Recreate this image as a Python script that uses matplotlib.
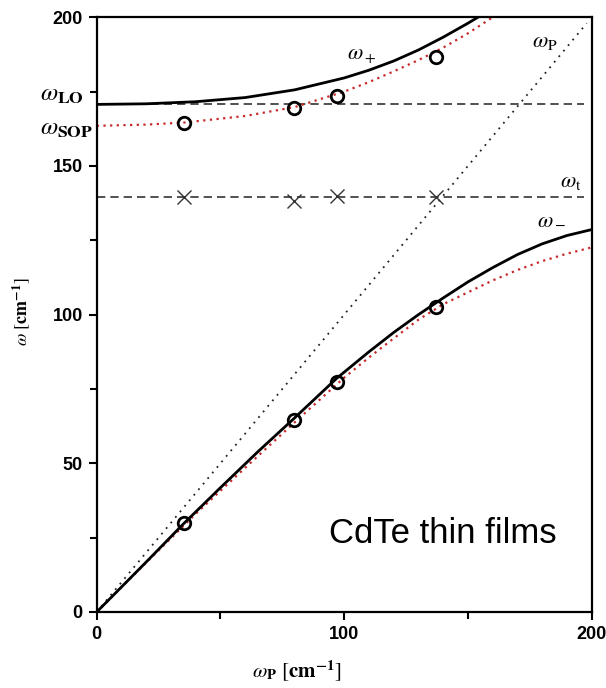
# Coupled plasmon-phonon modes in CdTe thin films

import matplotlib.pyplot as plt
from matplotlib.ticker import MultipleLocator

plt.rcParams['mathtext.fontset'] = 'stix'
plt.rcParams['font.family'] = ['Liberation Sans', 'DejaVu Sans']

# measured points (omega_p positions)
wp_meas = [35.4, 79.7, 97.0, 137.2]
w_plus_meas = [164.6, 169.5, 173.5, 186.7]
w_minus_meas = [29.8, 64.5, 77.4, 102.6]
w_t_meas = [139.6, 138.3, 139.9, 139.6]

# omega+ branch, solid black
wp_plus = [0, 20, 40, 60, 80, 100, 110, 120, 130, 140, 150, 160]
w_plus = [170.7, 170.9, 171.6, 173.0, 175.6, 179.6, 182.2, 185.3, 189.0, 193.3, 198.0, 203.0]

# omega+ branch with SOP, red dotted
wp_plus_sop = [0, 20, 35.4, 60, 80, 100, 110, 120, 130, 140, 150, 160, 165]
w_plus_sop = [163.5, 163.9, 164.6, 166.8, 169.8, 175.0, 178.2, 181.8, 185.6, 189.8, 194.6, 200.0, 203.0]

# omega- branch, solid black
wp_minus = [0, 20, 35, 50, 65, 80, 97, 110, 120, 130, 140, 150, 160, 170, 180, 190, 200]
w_minus = [0, 16.8, 29.6, 41.8, 53.8, 65.3, 78.6, 87.5, 94.0, 100.0, 105.6, 111.0, 115.8, 120.2, 123.8, 126.6, 128.6]

# omega- branch with SOP, red dotted
wp_minus_sop = [0, 20, 40, 60, 80, 100, 110, 120, 130, 140, 150, 160, 170, 180, 190, 200]
w_minus_sop = [0, 16.6, 33.0, 48.5, 63.8, 78.8, 85.6, 92.0, 98.3, 103.5, 107.5, 111.5, 115.0, 118.0, 120.5, 122.6]

w_LO = 170.7
w_t = 139.6
diag = [0, 198]

fig = plt.figure(figsize=(6.06, 6.88), dpi=100)
ax = fig.add_axes([0.1596, 0.1105, 0.8168, 0.8644])

ax.axhline(w_LO, xmin=0, xmax=0.985, color='#333333', ls=(0, (5, 3)), lw=1.2)
ax.axhline(w_t, xmin=0, xmax=0.985, color='#333333', ls=(0, (5, 3)), lw=1.2)
ax.plot(diag, diag, color='#222222', ls=(0, (1, 3)), lw=1.3)

ax.plot(wp_plus_sop, w_plus_sop, color='#c8282a', ls=(0, (1, 2)), lw=1.6)
ax.plot(wp_minus_sop, w_minus_sop, color='#c8282a', ls=(0, (1, 2)), lw=1.6)
ax.plot(wp_plus, w_plus, color='black', lw=2.0)
ax.plot(wp_minus, w_minus, color='black', lw=2.0)

ax.plot(wp_meas, w_plus_meas, 'o', mfc='none', mec='black', ms=9, mew=2)
ax.plot(wp_meas, w_minus_meas, 'o', mfc='none', mec='black', ms=9, mew=2)
ax.plot(wp_meas, w_t_meas, 'x', color='#333333', ms=10, mew=1.0)

ax.set_xlim(0, 200)
ax.set_ylim(0, 200)
ax.xaxis.set_major_locator(MultipleLocator(100))
ax.xaxis.set_minor_locator(MultipleLocator(50))
ax.yaxis.set_major_locator(MultipleLocator(50))
ax.yaxis.set_minor_locator(MultipleLocator(25))
ax.tick_params(which='both', direction='out', width=1.5, top=False, right=False)
ax.tick_params(which='major', length=6, labelsize=13, pad=4)
ax.tick_params(which='minor', length=5)
for lab in ax.get_xticklabels() + ax.get_yticklabels():
    lab.set_fontweight('bold')
for sp in ax.spines.values():
    sp.set_linewidth(1.6)

ax.set_xlabel(r'$\omega_{\mathbf{P}}\ [\mathbf{cm}^{\mathbf{-1}}]$', fontsize=15)
ax.xaxis.set_label_coords(0.405, -0.077)
ax.set_ylabel(r'$\omega\ [\mathbf{cm}^{\mathbf{-1}}]$', fontsize=13)
ax.yaxis.set_label_coords(-0.13, 0.505)

# curve labels
ax.text(101, 185.5, r'$\omega_+$', fontsize=16)
ax.text(176, 190, r'$\omega_{\mathrm{P}}$', fontsize=16)
ax.text(187, 143, r'$\omega_{\mathrm{t}}$', fontsize=16)
ax.text(178, 130.5, r'$\omega_-$', fontsize=16)
ax.text(-23, 172, r'$\omega_{\mathbf{LO}}$', fontsize=18, clip_on=False)
ax.text(-23, 160.5, r'$\omega_{\mathbf{SOP}}$', fontsize=18, clip_on=False)

ax.text(94, 23.2, 'CdTe thin films', fontsize=25)

fig.savefig('out.png', dpi=100)
